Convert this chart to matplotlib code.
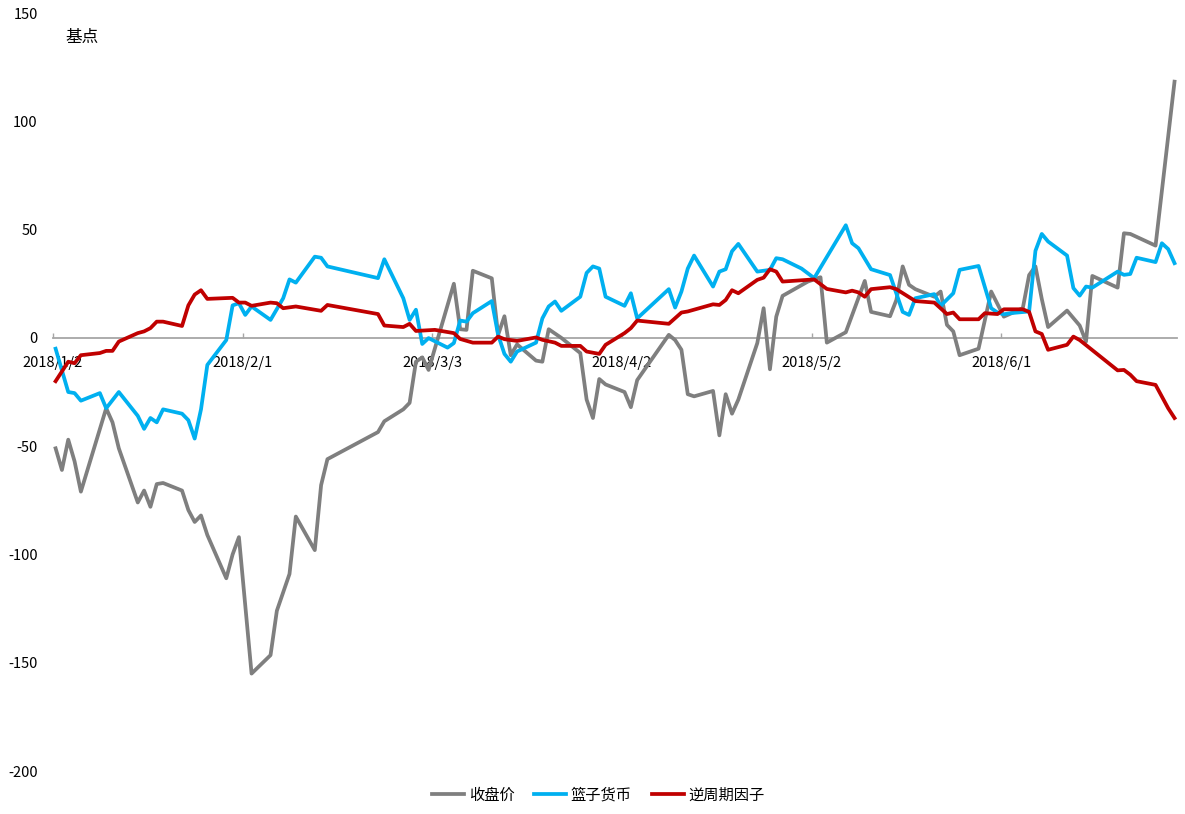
import matplotlib
matplotlib.use('Agg')
import matplotlib.pyplot as plt
import pandas as pd

plt.rcParams['font.family'] = ['Noto Sans CJK SC', 'DejaVu Sans']
plt.rcParams['axes.unicode_minus'] = False

## data (basis points)
gray_dates = ['1/2', '1/3', '1/4', '1/5', '1/6', '1/10', '1/11', '1/12', '1/15', '1/16',
              '1/17', '1/18', '1/19', '1/22', '1/23', '1/24', '1/25', '1/26', '1/29', '1/30',
              '1/31', '2/2', '2/5', '2/6', '2/8', '2/9', '2/12', '2/13', '2/14', '2/22',
              '2/23', '2/26', '2/27', '2/28', '3/1', '3/2', '3/6', '3/7', '3/8', '3/9',
              '3/12', '3/13', '3/14', '3/15', '3/16', '3/19', '3/20', '3/21', '3/23', '3/26',
              '3/27', '3/28', '3/29', '3/30', '4/2', '4/3', '4/4', '4/9', '4/10', '4/11',
              '4/12', '4/13', '4/16', '4/17', '4/18', '4/19', '4/20', '4/23', '4/24', '4/25',
              '4/26', '4/27', '5/1', '5/3', '5/4', '5/7', '5/10', '5/11', '5/14', '5/15',
              '5/16', '5/17', '5/18', '5/21', '5/22', '5/23', '5/24', '5/25', '5/28', '5/30',
              '6/1', '6/4', '6/5', '6/6', '6/7', '6/8', '6/11', '6/13', '6/14', '6/15',
              '6/19', '6/20', '6/21', '6/25', '6/28']
gray_vals = [-51, -61, -47, -57, -71, -32.5, -39, -51, -76, -70.5,
             -78, -67.5, -67, -70.5, -79.5, -85, -82, -91, -111, -100,
             -92, -155, -146.5, -126, -109, -82.5, -98, -68, -56, -43.5,
             -38.5, -33, -30, -11, -9, -14.8, 25, 4, 3.7, 31,
             27.5, 1.4, 10, -8, -3, -10.5, -11, 4, 0, -7,
             -28.5, -37, -19, -21.5, -25, -32, -19.5, 1.4, -1, -5.5,
             -26, -27, -24.5, -45, -26, -35, -28.5, -2.4, 13.7, -14.5,
             9.8, 19.4, 26, 28, -2.2, 2.6, 26.3, 12, 10, 17.5,
             33, 24.5, 22.5, 19, 21.4, 6, 3, -8, -5, 21.4,
             9.8, 13.7, 29, 33, 18, 5, 12.6, 5.7, -1.7, 28.6,
             23.2, 48.3, 48, 42.6, 118.3]

blue_dates = ['1/2', '1/4', '1/5', '1/6', '1/9', '1/10', '1/12', '1/15', '1/16', '1/17',
              '1/18', '1/19', '1/22', '1/23', '1/24', '1/25', '1/26', '1/29', '1/30', '1/31',
              '2/1', '2/2', '2/5', '2/7', '2/8', '2/9', '2/12', '2/13', '2/14', '2/22',
              '2/23', '2/26', '2/27', '2/28', '3/1', '3/2', '3/5', '3/6', '3/7', '3/8',
              '3/9', '3/12', '3/13', '3/14', '3/15', '3/16', '3/19', '3/20', '3/21', '3/22',
              '3/23', '3/26', '3/27', '3/28', '3/29', '3/30', '4/2', '4/3', '4/4', '4/9',
              '4/10', '4/11', '4/12', '4/13', '4/16', '4/17', '4/18', '4/19', '4/20', '4/23',
              '4/25', '4/26', '4/27', '4/30', '5/2', '5/7', '5/8', '5/9', '5/11', '5/14',
              '5/16', '5/17', '5/18', '5/21', '5/22', '5/24', '5/25', '5/28', '5/30', '5/31',
              '6/1', '6/2', '6/5', '6/6', '6/7', '6/8', '6/11', '6/12', '6/13', '6/14',
              '6/15', '6/19', '6/20', '6/21', '6/22', '6/25', '6/26', '6/27', '6/28']
blue_vals = [-5, -25, -25.5, -29, -25.5, -32.5, -25, -36, -42, -37,
             -39, -33, -35, -38, -46.5, -33, -12.5, -1, 15, 16,
             10.6, 14.5, 8.3, 18.3, 27, 25.5, 37.5, 37, 33, 27.6,
             36.3, 18.3, 8.3, 13, -2.8, -0.1, -4.5, -2.4, 8, 7.5,
             11.4, 17, 1.4, -7.4, -11, -6.3, -2.2, 9, 14.5, 16.8,
             12.5, 19, 30, 33, 32, 19, 14.8, 20.6, 9, 22.5,
             14, 21.4, 32, 38, 23.7, 30.6, 31.7, 40, 43.4, 30.6,
             31.4, 36.8, 36.3, 32, 27.6, 52, 43.7, 41.4, 31.7, 29,
             12, 10.6, 18.3, 20.2, 14.8, 20.6, 31.4, 33.2, 13.7, 11.7,
             10.9, 11.4, 12.2, 40.2, 48, 44.5, 38, 23, 19.5, 23.7,
             23.2, 30.6, 29.1, 29.5, 37, 35, 43.7, 41, 34.5]

red_dates = ['1/2', '1/3', '1/4', '1/5', '1/6', '1/9', '1/10', '1/11', '1/12', '1/15',
             '1/16', '1/17', '1/18', '1/19', '1/22', '1/23', '1/24', '1/25', '1/26', '1/30',
             '1/31', '2/1', '2/2', '2/5', '2/6', '2/7', '2/9', '2/13', '2/14', '2/22',
             '2/23', '2/26', '2/27', '2/28', '3/3', '3/6', '3/7', '3/9', '3/12', '3/13',
             '3/14', '3/16', '3/19', '3/20', '3/22', '3/23', '3/26', '3/27', '3/29', '3/30',
             '4/2', '4/3', '4/4', '4/9', '4/11', '4/12', '4/16', '4/17', '4/18', '4/19',
             '4/20', '4/23', '4/24', '4/25', '4/26', '4/27', '5/2', '5/4', '5/7', '5/8',
             '5/9', '5/10', '5/11', '5/14', '5/15', '5/18', '5/21', '5/23', '5/24', '5/25',
             '5/28', '5/29', '5/31', '6/1', '6/4', '6/5', '6/6', '6/7', '6/8', '6/11',
             '6/12', '6/13', '6/19', '6/20', '6/21', '6/22', '6/25', '6/27', '6/28']
red_vals = [-20, -15.5, -11, -11.7, -8, -7, -6, -6, -1.7, 2.2,
            3, 4.5, 7.5, 7.5, 5.5, 15, 20, 22, 18, 18.5,
            16.3, 16.3, 14.8, 16.3, 16, 13.7, 14.5, 12.5, 15.2, 11,
            5.7, 5, 6.5, 3.2, 3.7, 2.2, -0.5, -2.2, -2.2, 0.6,
            -0.6, -1.4, 0.2, -0.9, -2.2, -3.7, -3.7, -6.3, -7.4, -3.2,
            2.2, 4.5, 8, 6.5, 11.7, 12.2, 15.5, 15.2, 17.5, 22,
            20.6, 26.8, 27.8, 31.7, 30.6, 26, 27, 22.6, 21, 21.8,
            21, 19, 22.5, 23.4, 22.5, 17, 16.3, 11, 11.7, 8.6,
            8.6, 11.4, 11, 13.2, 13.2, 12, 3, 1.8, -5.5, -3.2,
            0.6, -1, -15, -14.8, -17, -20, -21.7, -32.5, -37]

tick_labels = ['2018/1/2', '2018/2/1', '2018/3/3', '2018/4/2', '2018/5/2', '2018/6/1']
series_names = ['收盘价', '篮子货币', '逆周期因子']

# points sit a little right of their date tick, as in the original chart
day_shift = pd.Timedelta(hours=10)


def to_dt(days):
    return pd.to_datetime(['2018/' + d for d in days], format='%Y/%m/%d') + day_shift


fig = plt.figure(figsize=(11.85, 8.14), dpi=100)
ax = fig.add_axes([0.0447, 0.0528, 0.9485, 0.9312])

ax.plot(to_dt(gray_dates), gray_vals, color='#7F7F7F', lw=2.7, label=series_names[0],
        clip_on=False, solid_joinstyle='round', zorder=3)
ax.plot(to_dt(blue_dates), blue_vals, color='#00B0F0', lw=2.7, label=series_names[1],
        clip_on=False, solid_joinstyle='round', zorder=4)
ax.plot(to_dt(red_dates), red_vals, color='#C00000', lw=2.7, label=series_names[2],
        clip_on=False, solid_joinstyle='round', zorder=5)

start = pd.Timestamp('2018-01-02')
ax.set_xlim(start, start + pd.Timedelta(days=177.8))
ax.set_ylim(-200, 150)
ax.set_yticks([-200, -150, -100, -50, 0, 50, 100, 150])

ticks = pd.to_datetime(tick_labels, format='%Y/%m/%d')
ax.set_xticks(ticks)
ax.set_xticklabels(tick_labels)

for s in ['left', 'top', 'right']:
    ax.spines[s].set_visible(False)
ax.spines['bottom'].set_position(('data', 0))
ax.spines['bottom'].set_color('#A6A6A6')
ax.spines['bottom'].set_linewidth(1.3)
ax.spines['bottom'].set_zorder(1)

ax.tick_params(axis='x', direction='in', length=3.5, width=1, color='#A6A6A6',
               pad=13, labelsize=10.5, labelcolor='#000000')
ax.tick_params(axis='y', length=0, pad=11, labelsize=10.5, labelcolor='#000000')

fig.text(65 / 1185, 1 - 37 / 814, '基点', fontsize=12, va='center', ha='left')

fig.legend(loc='lower center', bbox_to_anchor=(0.505, -0.004), ncol=3, frameon=False,
           fontsize=11, handlelength=2.1, handletextpad=0.3, columnspacing=1.3)

fig.savefig('out.png', dpi=100)
